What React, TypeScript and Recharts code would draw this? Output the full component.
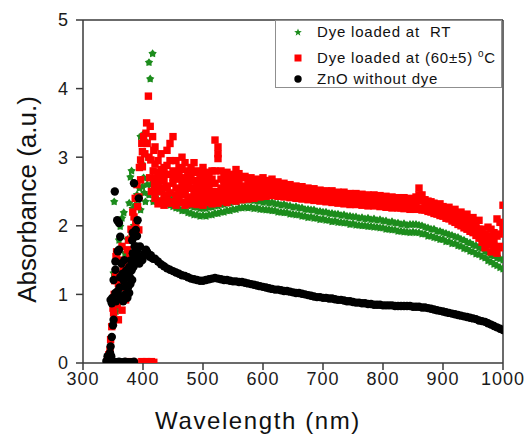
import React from "react";
import { ScatterChart, Scatter, XAxis, YAxis, ReferenceLine } from "recharts";

const FONT = '"Liberation Sans", Arial, sans-serif';
const GREEN = "#1c8c1c";
const RED = "#ff0000";
const BLACK = "#000000";
const AXIS = "#3a3a3a";

const xTicks = [300, 400, 500, 600, 700, 800, 900, 1000];
const yTicks = [0, 1, 2, 3, 4, 5];

// wavelength grid (nm) for the dense part of the spectra
const gridNm = [
  420, 425, 430, 435, 440, 445, 450, 455, 460, 465,
  470, 475, 480, 485, 490, 495, 500, 505, 510, 515,
  520, 525, 530, 535, 540, 545, 550, 555, 560, 565,
  570, 575, 580, 585, 590, 595, 600, 605, 610, 615,
  620, 625, 630, 635, 640, 645, 650, 655, 660, 665,
  670, 675, 680, 685, 690, 695, 700, 705, 710, 715,
  720, 725, 730, 735, 740, 745, 750, 755, 760, 765,
  770, 775, 780, 785, 790, 795, 800, 805, 810, 815,
  820, 825, 830, 835, 840, 845, 850, 855, 860, 865,
  870, 875, 880, 885, 890, 895, 900, 905, 910, 915,
  920, 925, 930, 935, 940, 945, 950, 955, 960, 965,
  970, 975, 980, 985, 990, 995, 1000,
];

// ZnO without dye
const zno = [
  1.52, 1.48, 1.44, 1.41, 1.38, 1.36, 1.34, 1.32, 1.30, 1.28,
  1.27, 1.25, 1.23, 1.22, 1.21, 1.20, 1.20, 1.21, 1.22, 1.23,
  1.24, 1.23, 1.22, 1.21, 1.21, 1.20, 1.19, 1.19, 1.18, 1.18,
  1.17, 1.16, 1.15, 1.14, 1.13, 1.12, 1.11, 1.10, 1.09, 1.08,
  1.07, 1.07, 1.06, 1.05, 1.05, 1.04, 1.03, 1.02, 1.02, 1.01,
  1.00, 0.99, 0.98, 0.97, 0.96, 0.96, 0.95, 0.95, 0.94, 0.94,
  0.93, 0.92, 0.92, 0.91, 0.90, 0.90, 0.89, 0.88, 0.88, 0.87,
  0.87, 0.86, 0.86, 0.85, 0.85, 0.85, 0.84, 0.84, 0.84, 0.84,
  0.83, 0.83, 0.83, 0.83, 0.83, 0.83, 0.82, 0.82, 0.82, 0.81,
  0.81, 0.80, 0.79, 0.78, 0.77, 0.76, 0.75, 0.74, 0.73, 0.72,
  0.71, 0.70, 0.69, 0.68, 0.67, 0.66, 0.65, 0.64, 0.62, 0.61,
  0.60, 0.58, 0.56, 0.54, 0.52, 0.50, 0.48,
];

const znoEarly: [number, number][] = [
  [339, 0.03], [341, 0.1], [343, 0.07], [345, 0.15], [346, 0.24], [347, 0.1],
  [348, 0.38], [350, 0.55], [351, 0.63], [346, 0.92], [348, 0.87], [349, 0.95],
  [351, 1.21], [353, 2.5], [354, 1.48], [354, 1.36], [354, 1.02], [355, 0.9],
  [357, 2.08], [358, 1.63], [358, 1.05], [360, 2.04], [360, 1.65], [361, 1.1],
  [362, 1.84], [362, 1.25], [363, 0.95], [364, 1.45], [365, 0.97], [366, 1.3],
  [367, 0.9], [368, 1.2], [369, 1.5], [370, 1.0], [371, 1.11], [372, 1.35],
  [373, 1.25], [374, 0.95], [375, 1.1], [376, 1.3], [377, 1.02], [377, 1.4],
  [378, 1.25], [379, 1.15], [380, 1.5], [381, 1.35], [382, 1.21], [382, 1.79],
  [383, 1.9], [383, 1.6], [384, 1.4], [385, 1.46], [385, 1.84], [385, 2.62],
  [386, 1.7], [387, 1.55], [388, 1.94], [388, 1.45], [389, 1.7], [390, 1.85],
  [391, 1.65], [391, 2.08], [392, 1.55], [393, 2.4], [394, 1.45], [395, 1.7],
  [396, 1.55], [398, 1.5], [399, 1.5], [401, 1.58], [403, 1.6], [405, 1.65],
  [407, 1.62], [409, 1.58], [411, 1.55], [413, 1.57], [415, 1.53], [417, 1.52],
];

const znoZero: [number, number][] = [
  [340, 0.01], [344, 0.02], [348, 0.01], [352, 0.02], [356, 0.01], [360, 0.02],
  [365, 0.01], [370, 0.02], [375, 0.01], [380, 0.01], [385, 0.02],
];

// Dye loaded at RT
const rtHi = [
  2.56, 2.50, 2.49, 2.45, 2.44, 2.40, 2.39, 2.37, 2.36, 2.33,
  2.33, 2.30, 2.29, 2.27, 2.27, 2.25, 2.26, 2.25, 2.27, 2.27,
  2.29, 2.29, 2.31, 2.31, 2.33, 2.33, 2.35, 2.35, 2.37, 2.38,
  2.37, 2.38, 2.37, 2.37, 2.36, 2.36, 2.34, 2.35, 2.33, 2.34,
  2.32, 2.32, 2.30, 2.31, 2.29, 2.29, 2.27, 2.28, 2.26, 2.26,
  2.24, 2.24, 2.23, 2.23, 2.21, 2.21, 2.20, 2.20, 2.18, 2.18,
  2.17, 2.17, 2.15, 2.16, 2.14, 2.14, 2.13, 2.13, 2.11, 2.12,
  2.10, 2.11, 2.09, 2.10, 2.08, 2.09, 2.07, 2.07, 2.05, 2.06,
  2.04, 2.04, 2.02, 2.03, 2.01, 2.02, 2.02, 2.02, 2.01, 2.00,
  1.98, 1.97, 1.95, 1.95, 1.92, 1.92, 1.90, 1.89, 1.87, 1.86,
  1.84, 1.83, 1.80, 1.79, 1.76, 1.75, 1.72, 1.71, 1.68, 1.67,
  1.63, 1.61, 1.57, 1.56, 1.53, 1.52, 1.50,
];

const rtLo = [
  2.40, 2.38, 2.36, 2.34, 2.32, 2.30, 2.28, 2.26, 2.25, 2.22,
  2.22, 2.19, 2.18, 2.16, 2.16, 2.14, 2.15, 2.14, 2.16, 2.16,
  2.18, 2.18, 2.20, 2.20, 2.22, 2.22, 2.24, 2.24, 2.26, 2.26,
  2.27, 2.26, 2.27, 2.25, 2.26, 2.24, 2.24, 2.23, 2.23, 2.22,
  2.22, 2.20, 2.20, 2.19, 2.19, 2.17, 2.17, 2.16, 2.16, 2.14,
  2.14, 2.12, 2.13, 2.11, 2.11, 2.09, 2.10, 2.08, 2.08, 2.06,
  2.07, 2.05, 2.05, 2.04, 2.04, 2.02, 2.03, 2.01, 2.01, 2.00,
  2.00, 1.99, 1.99, 1.98, 1.98, 1.97, 1.97, 1.95, 1.95, 1.94,
  1.94, 1.92, 1.92, 1.91, 1.91, 1.90, 1.91, 1.90, 1.90, 1.88,
  1.88, 1.85, 1.85, 1.83, 1.82, 1.80, 1.80, 1.77, 1.77, 1.74,
  1.74, 1.71, 1.70, 1.67, 1.66, 1.63, 1.62, 1.59, 1.58, 1.55,
  1.53, 1.49, 1.47, 1.44, 1.42, 1.39, 1.37,
];

const rtEarly: [number, number][] = [
  [348, 0.55], [351, 1.31], [352, 2.35], [354, 1.0], [355, 0.75], [357, 0.82],
  [357, 1.57], [358, 0.9], [360, 1.11], [360, 1.79], [362, 1.99], [365, 2.11],
  [366, 1.4], [368, 2.19], [370, 1.6], [372, 1.3], [374, 1.8], [377, 2.33],
  [379, 2.71], [381, 2.8], [383, 2.25], [385, 2.0], [387, 2.3], [390, 2.45],
  [392, 2.38], [394, 2.55], [396, 2.23], [396, 3.3], [398, 2.9], [399, 2.57],
  [399, 3.32], [401, 2.7], [402, 2.48], [402, 3.06], [404, 2.35], [405, 3.23],
  [407, 2.6], [408, 3.0], [410, 4.38], [410, 2.45], [412, 4.14], [413, 2.6],
  [415, 2.5], [416, 4.51], [417, 2.35],
];

// Dye loaded at (60±5) °C
const hotHi = [
  3.15, 2.95, 3.05, 2.85, 3.10, 3.20, 3.30, 2.95, 2.85, 3.00,
  2.92, 2.80, 2.85, 2.92, 2.80, 2.75, 2.85, 2.78, 2.72, 2.80,
  3.25, 3.15, 2.80, 2.72, 2.78, 2.70, 2.75, 2.82, 2.76, 2.70,
  2.72, 2.66, 2.70, 2.64, 2.68, 2.62, 2.70, 2.66, 2.63, 2.68,
  2.62, 2.64, 2.60, 2.62, 2.58, 2.60, 2.56, 2.58, 2.55, 2.57,
  2.54, 2.55, 2.52, 2.54, 2.51, 2.52, 2.50, 2.51, 2.49, 2.51,
  2.48, 2.49, 2.47, 2.49, 2.46, 2.47, 2.45, 2.47, 2.44, 2.46,
  2.44, 2.45, 2.43, 2.45, 2.42, 2.44, 2.41, 2.43, 2.40, 2.42,
  2.40, 2.41, 2.39, 2.41, 2.38, 2.40, 2.39, 2.42, 2.55, 2.45,
  2.38, 2.36, 2.35, 2.33, 2.30, 2.32, 2.28, 2.26, 2.27, 2.22,
  2.24, 2.18, 2.20, 2.14, 2.17, 2.10, 2.12, 2.05, 2.08, 1.95,
  1.88, 1.98, 1.95, 1.90, 2.10, 2.05, 2.30,
];

const hotCore = [
  2.62, 2.50, 2.68, 2.45, 2.55, 2.48, 2.70, 2.45, 2.52, 2.47,
  2.45, 2.55, 2.42, 2.50, 2.44, 2.42, 2.47, 2.43, 2.46, 2.41,
  2.50, 2.45, 2.48, 2.46, 2.42, 2.47, 2.45, 2.50, 2.47, 2.44,
  2.49, 2.46, 2.52, 2.48, 2.55, 2.50, 2.58, 2.52, 2.55, 2.57,
  2.52, 2.55, 2.50, 2.53, 2.49, 2.52, 2.48, 2.50, 2.47, 2.49,
  2.46, 2.48, 2.45, 2.47, 2.44, 2.45, 2.43, 2.44, 2.42, 2.44,
  2.41, 2.43, 2.40, 2.42, 2.39, 2.41, 2.38, 2.40, 2.37, 2.39,
  2.37, 2.39, 2.36, 2.38, 2.35, 2.37, 2.35, 2.36, 2.34, 2.35,
  2.33, 2.35, 2.32, 2.34, 2.31, 2.33, 2.32, 2.34, 2.45, 2.36,
  2.30, 2.29, 2.27, 2.26, 2.23, 2.25, 2.21, 2.19, 2.18, 2.15,
  2.14, 2.10, 2.10, 2.05, 2.06, 2.01, 2.00, 1.96, 1.95, 1.86,
  1.78, 1.85, 1.80, 1.80, 1.85, 1.88, 1.95,
];

const hotLo = [
  2.40, 2.32, 2.36, 2.30, 2.38, 2.33, 2.35, 2.30, 2.38, 2.34,
  2.30, 2.36, 2.32, 2.37, 2.31, 2.35, 2.30, 2.34, 2.36, 2.32,
  2.38, 2.33, 2.36, 2.38, 2.34, 2.37, 2.39, 2.36, 2.40, 2.38,
  2.42, 2.39, 2.43, 2.40, 2.44, 2.42, 2.45, 2.43, 2.46, 2.44,
  2.45, 2.43, 2.44, 2.42, 2.43, 2.41, 2.42, 2.40, 2.41, 2.39,
  2.40, 2.38, 2.39, 2.37, 2.38, 2.36, 2.37, 2.35, 2.36, 2.34,
  2.35, 2.33, 2.34, 2.32, 2.33, 2.31, 2.32, 2.31, 2.32, 2.30,
  2.31, 2.29, 2.30, 2.29, 2.30, 2.28, 2.29, 2.27, 2.28, 2.26,
  2.27, 2.26, 2.26, 2.25, 2.26, 2.24, 2.25, 2.24, 2.25, 2.23,
  2.23, 2.21, 2.20, 2.18, 2.17, 2.15, 2.14, 2.11, 2.10, 2.07,
  2.05, 2.02, 2.00, 1.97, 1.95, 1.92, 1.90, 1.86, 1.82, 1.76,
  1.68, 1.72, 1.62, 1.70, 1.60, 1.70, 1.68,
];

// extra rows of the noisy 420–600 nm stretch
const hotMid = [
  2.70, 2.62, 2.55, 2.65, 2.58, 2.75, 2.62, 2.55, 2.68, 2.60,
  2.52, 2.62, 2.55, 2.65, 2.56, 2.50, 2.60, 2.52, 2.58, 2.50,
  2.62, 2.98, 2.55, 2.60, 2.52, 2.58, 2.55, 2.62, 2.56, 2.52,
  2.58, 2.54, 2.57, 2.53, 2.56, 2.52, 2.58,
];

const hotUpper = [
  2.90, 2.78, 2.82, 2.75, 2.88, 2.95, 2.80, 2.72, 2.78, 2.82,
  2.70, 2.74, 2.68, 2.78, 2.66, 2.64, 2.72, 2.66, 2.62, 2.68,
  2.80, 3.05, 2.68, 2.66, 2.70, 2.64, 2.66, 2.70, 2.64,
];

const hotEarly: [number, number][] = [
  [341, 0.05], [343, 0.12], [345, 0.19], [346, 0.34], [348, 0.53], [350, 0.8],
  [351, 0.73], [352, 1.0], [353, 1.2], [354, 1.26], [355, 1.55], [356, 1.62],
  [357, 0.85], [359, 0.63], [359, 1.16], [360, 1.5], [361, 1.3], [363, 0.97],
  [364, 1.1], [365, 0.77], [365, 1.7], [367, 1.4], [369, 1.2], [371, 0.92],
  [372, 1.5], [374, 1.11], [374, 1.65], [376, 1.79], [378, 1.55], [380, 1.95],
  [382, 1.84], [383, 2.2], [385, 2.13], [387, 2.4], [388, 2.04], [390, 2.6],
  [391, 2.28], [393, 1.94], [393, 2.42], [394, 2.85], [396, 2.67], [396, 2.96],
  [398, 3.2], [399, 3.08], [399, 2.86], [401, 3.3], [403, 3.05], [405, 3.35],
  [406, 3.5], [407, 3.2], [409, 3.89], [410, 3.0], [411, 2.7], [413, 2.96],
  [414, 2.5], [416, 3.3], [417, 2.8], [412, 3.45], [418, 3.1], [419, 2.6],
];

const hotZero: [number, number][] = [
  [372, 0.01], [376, 0.02], [380, 0.0], [385, 0.01], [398, 0.02], [402, 0.01],
  [406, 0.02], [410, 0.01], [414, 0.02], [418, 0.01],
];

const legendLabels = ["Dye loaded at  RT", "Dye loaded at (60±5) ", "ZnO without dye"];

const fromPairs = (pts: [number, number][]) => pts.map(([x, y]) => ({ x, y }));
const onGrid = (ys: number[]) => ys.map((y, i) => ({ x: gridNm[i], y }));

const rtData = [...fromPairs(rtEarly), ...onGrid(rtLo), ...onGrid(rtHi)];
const hotData = [
  ...fromPairs(hotZero),
  ...fromPairs(hotEarly),
  ...onGrid(hotLo),
  ...onGrid(hotCore),
  ...onGrid(hotMid),
  ...onGrid(hotUpper),
  ...onGrid(hotHi),
];
const znoData = [...fromPairs(znoZero), ...fromPairs(znoEarly), ...onGrid(zno)];

function starPoints(cx: number, cy: number, outer: number, inner: number) {
  const pts: string[] = [];
  for (let k = 0; k < 10; k++) {
    const a = ((-90 + k * 36) * Math.PI) / 180;
    const r = k % 2 === 0 ? outer : inner;
    pts.push(`${cx + r * Math.cos(a)},${cy + r * Math.sin(a)}`);
  }
  return pts.join(" ");
}

const StarDot = (p: any) => <polygon points={starPoints(p.cx, p.cy, 4.4, 2.7)} fill={GREEN} />;
const SquareDot = (p: any) => <rect x={p.cx - 3.7} y={p.cy - 3.7} width={7.4} height={7.4} fill={RED} />;
const CircleDot = (p: any) => <circle cx={p.cx} cy={p.cy} r={4.2} fill={BLACK} />;

const tickStyle = { fill: "#1a1a1a", fontSize: 18, fontFamily: FONT };

function XTitle(props: any) {
  const vb = props.viewBox;
  return (
    <text x={vb.x + 175} y={vb.y + 66} textAnchor="middle" fontSize={24} letterSpacing={1.6}
      fontFamily={FONT} fill="#111">
      Wavelength (nm)
    </text>
  );
}

function YTitle(props: any) {
  const vb = props.viewBox;
  const x = vb.x + 36;
  const y = vb.y + vb.height / 2 + 8;
  return (
    <text x={x} y={y} transform={`rotate(-90, ${x}, ${y})`} textAnchor="middle" fontSize={26}
      fontFamily={FONT} fill="#111">
      Absorbance (a.u.)
    </text>
  );
}

function LegendMarker({ kind }: { kind: number }) {
  return (
    <svg width={10} height={10} style={{ position: "absolute", left: 17, top: 5 }}>
      {kind === 0 && <polygon points={starPoints(5, 5.4, 4, 1.7)} fill={GREEN} />}
      {kind === 1 && <rect x={1.5} y={1.5} width={7} height={7} fill={RED} />}
      {kind === 2 && <circle cx={5} cy={5} r={3.7} fill={BLACK} />}
    </svg>
  );
}

const rowTops = [1, 27, 48];

export default function App() {
  return (
    <div style={{ position: "absolute", left: 0, top: 0, width: 529, height: 437, background: "#fff", fontFamily: FONT }}>
      <ScatterChart width={529} height={437} margin={{ top: 20, right: 26, bottom: 0, left: 0 }}>
        <XAxis type="number" dataKey="x" domain={[300, 1000]} ticks={xTicks} interval={0}
          allowDataOverflow height={74} tickSize={7} tickMargin={2} stroke={AXIS} strokeWidth={1.5}
          tick={{ ...tickStyle, letterSpacing: 1 }} label={XTitle} />
        <YAxis type="number" dataKey="y" domain={[0, 5]} ticks={yTicks} interval={0}
          allowDataOverflow width={83} tickSize={7} tickMargin={8} stroke={AXIS} strokeWidth={1.5}
          tick={tickStyle} label={YTitle} />
        <ReferenceLine y={5} stroke={AXIS} strokeWidth={1.5} />
        <ReferenceLine x={1000} stroke={AXIS} strokeWidth={1.5} />
        <Scatter data={rtData} shape={StarDot} isAnimationActive={false} />
        <Scatter data={hotData} shape={SquareDot} isAnimationActive={false} />
        <Scatter data={znoData} shape={CircleDot} isAnimationActive={false} />
      </ScatterChart>
      <div style={{ position: "absolute", left: 275, top: 20, width: 225, height: 66, border: "1px solid #8f8f8f", background: "#fff" }}>
        {legendLabels.map((label, i) => (
          <div key={label} style={{ position: "absolute", left: 0, top: rowTops[i], height: 20, width: 225 }}>
            <LegendMarker kind={i} />
            <span style={{ position: "absolute", left: 41, top: 1, fontSize: 15, letterSpacing: 0.8, whiteSpace: "pre", color: "#111", lineHeight: "18px" }}>
              {label}
              {i === 1 && <span style={{ fontSize: 10, position: "relative", top: -6 }}>o</span>}
              {i === 1 && "C"}
            </span>
          </div>
        ))}
      </div>
    </div>
  );
}
